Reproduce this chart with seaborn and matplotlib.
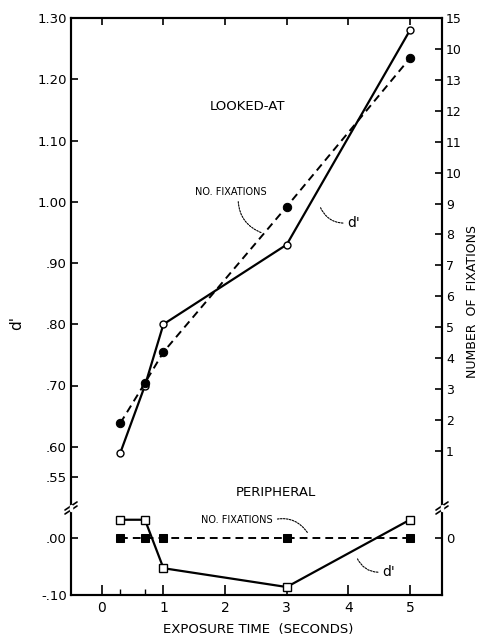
import matplotlib
matplotlib.use("Agg")
import matplotlib.pyplot as plt
from matplotlib.lines import Line2D
import seaborn as sns
import pandas as pd

# ---- data ----
exposure = [0.3, 0.7, 1.0, 3.0, 5.0]
looked_dprime = [0.59, 0.70, 0.80, 0.93, 1.28]
looked_fix = [1.9, 3.2, 4.2, 8.9, 13.7]
periph_dprime = [0.032, 0.032, -0.053, -0.086, 0.032]
periph_fix = [0, 0, 0, 0, 0]

x_ticks = [0, 1, 2, 3, 4, 5]
x_minor = [0.3, 0.7]
top_dprime_ticks = [1.30, 1.20, 1.10, 1.00, 0.90, 0.80, 0.70, 0.60, 0.55]
top_dprime_labels = ["1.30", "1.20", "1.10", "1.00", ".90", ".80", ".70", ".60", ".55"]
low_dprime_ticks = [0.00, -0.10]
low_dprime_labels = [".00", "-.10"]
fix_ticks = list(range(15, 0, -1))
fix_labels = ["15", "10", "13", "12", "11", "10", "9", "8", "7", "6", "5", "4", "3", "2", "1"]

sns.set_style("ticks")
plt.rcParams["font.family"] = ["DejaVu Sans"]
plt.rcParams["text.color"] = "black"
plt.rcParams["xtick.color"] = "black"
plt.rcParams["ytick.color"] = "black"
plt.rcParams["xtick.labelcolor"] = "black"
plt.rcParams["ytick.labelcolor"] = "black"
plt.rcParams["axes.labelcolor"] = "black"

W_PX, H_PX = 481, 639
fig = plt.figure(figsize=(W_PX / 100, H_PX / 100), dpi=100)

left_px, right_px, top_px, brk_px, bot_px = 71, 442, 18, 508, 595
L = left_px / W_PX
Wd = (right_px - left_px) / W_PX
ax_top = fig.add_axes([L, 1 - brk_px / H_PX, Wd, (brk_px - top_px) / H_PX])
ax_bot = fig.add_axes([L, 1 - bot_px / H_PX, Wd, (bot_px - brk_px) / H_PX])
ax_top2 = ax_top.twinx()
ax_bot2 = ax_bot.twinx()

df_look = pd.DataFrame({"t": exposure, "d": looked_dprime, "f": looked_fix})
df_per = pd.DataFrame({"t": exposure, "d": periph_dprime, "f": periph_fix})

# looked-at
sns.lineplot(data=df_look, x="t", y="d", ax=ax_top, color="black", lw=1.6,
             marker="o", markersize=5, markerfacecolor="white",
             markeredgecolor="black", markeredgewidth=1.0)
sns.lineplot(data=df_look, x="t", y="f", ax=ax_top2, color="black", lw=1.4,
             marker="o", markersize=6, markerfacecolor="black",
             markeredgecolor="black")
ax_top2.lines[-1].set_dashes((4, 2.6))

# peripheral
sns.lineplot(data=df_per, x="t", y="d", ax=ax_bot, color="black", lw=1.6,
             marker="s", markersize=5.5, markerfacecolor="white",
             markeredgecolor="black", markeredgewidth=1.0)
sns.lineplot(data=df_per, x="t", y="f", ax=ax_bot2, color="black", lw=1.4,
             marker="s", markersize=5.5, markerfacecolor="black",
             markeredgecolor="black")
ax_bot2.lines[-1].set_dashes((4, 2.6))

for a in (ax_top, ax_bot, ax_top2, ax_bot2):
    a.set_xlim(-0.5, 5.52)
    a.set_xlabel("")
    a.set_ylabel("")
    for s in a.spines.values():
        s.set_linewidth(1.5)
        s.set_color("black")

ax_top.set_ylim(0.50, 1.30)
ax_top2.set_ylim(-0.843, 15)
ax_bot.set_ylim(-0.10, 0.0526)
ax_bot2.set_ylim(-1.9, 1.0)

for a in (ax_top, ax_top2):
    a.spines["bottom"].set_visible(False)
    a.spines["top"].set_visible(True)
    a.spines["right"].set_visible(True)
for a in (ax_bot, ax_bot2):
    a.spines["top"].set_visible(False)
    a.spines["right"].set_visible(True)

# ticks
ax_top.set_yticks(top_dprime_ticks)
ax_top.set_yticklabels(top_dprime_labels)
ax_top.set_xticks(x_ticks)
ax_top.tick_params(axis="x", bottom=False, top=True, labelbottom=False,
                   labeltop=False, direction="in", length=5, width=1.2)
ax_top.tick_params(axis="y", left=True, right=False, direction="in",
                   length=5, width=1.2, labelsize=9.5, pad=3, colors="black")

ax_top2.set_yticks(fix_ticks)
ax_top2.set_yticklabels(fix_labels)
ax_top2.tick_params(axis="y", right=True, left=False, direction="in",
                    length=5, width=1.2, labelsize=9, pad=3, colors="black")

ax_bot.set_yticks(low_dprime_ticks)
ax_bot.set_yticklabels(low_dprime_labels)
ax_bot.set_xticks(x_ticks)
ax_bot.set_xticks(x_minor, minor=True)
ax_bot.tick_params(axis="x", which="major", direction="in", length=7,
                   width=1.2, labelsize=10, pad=4, top=False, colors="black")
ax_bot.tick_params(axis="x", which="minor", direction="in", length=4,
                   width=1.0, top=False, colors="black")
ax_bot.tick_params(axis="y", left=True, right=False, direction="in",
                   length=5, width=1.2, labelsize=9.5, pad=3, colors="black")

ax_bot2.set_yticks([0])
ax_bot2.set_yticklabels(["0"])
ax_bot2.tick_params(axis="y", right=True, left=False, direction="in",
                    length=5, width=1.2, labelsize=9.5, pad=3, colors="black")

# axis break marks
def px2fig(x, y):
    return x / W_PX, 1 - y / H_PX

for xc in (left_px, right_px):
    for dy in (-2, 2):
        x0, y0 = px2fig(xc - 6, brk_px + 4 + dy)
        x1, y1 = px2fig(xc + 6, brk_px - 4 + dy)
        fig.add_artist(Line2D([x0, x1], [y0, y1], color="black", lw=1.2))
    xw0, yw0 = px2fig(xc, brk_px - 2)
    xw1, yw1 = px2fig(xc, brk_px + 2)
    fig.add_artist(Line2D([xw0, xw1], [yw0, yw1], color="white", lw=2.5))

# titles and labels
fig.text(*px2fig(248, 107), "LOOKED-AT", ha="center", va="center", fontsize=9.5)
fig.text(*px2fig(276, 492), "PERIPHERAL", ha="center", va="center", fontsize=9.5)
fig.text(*px2fig(258, 630), "EXPOSURE TIME  (SECONDS)", ha="center",
         va="center", fontsize=9.5)
fig.text(*px2fig(17, 323), "d'", ha="center", va="center", fontsize=11,
         rotation=90)
fig.text(*px2fig(473, 302), "NUMBER  OF  FIXATIONS", ha="center", va="center",
         fontsize=9, rotation=90)

arrow = dict(arrowstyle="-", ls=(0, (1.5, 1.2)), lw=0.8, color="black",
             shrinkA=1, shrinkB=0)

ax_top.annotate("NO. FIXATIONS", xy=(2.60, 0.949), xycoords="data",
                xytext=px2fig(231, 192), textcoords="figure fraction",
                ha="center", va="center", fontsize=7,
                arrowprops=dict(arrow, connectionstyle="arc3,rad=0.35",
                                relpos=(0.6, 0.0)))
ax_top.annotate("d'", xy=(3.54, 0.992), xycoords="data",
                xytext=px2fig(354, 223), textcoords="figure fraction",
                ha="center", va="center", fontsize=10,
                arrowprops=dict(arrow, connectionstyle="arc3,rad=-0.35",
                                relpos=(0.0, 0.5)))
ax_bot.annotate("NO. FIXATIONS", xy=(3.34, 0.009), xycoords="data",
                xytext=px2fig(237, 520), textcoords="figure fraction",
                ha="center", va="center", fontsize=7, annotation_clip=False,
                arrowprops=dict(arrow, connectionstyle="arc3,rad=-0.35",
                                relpos=(1.0, 0.5)))
ax_bot.annotate("d'", xy=(4.14, -0.035), xycoords="data",
                xytext=px2fig(389, 572), textcoords="figure fraction",
                ha="center", va="center", fontsize=10, annotation_clip=False,
                arrowprops=dict(arrow, connectionstyle="arc3,rad=-0.35",
                                relpos=(0.0, 0.5)))

fig.savefig("out.png", dpi=100)
